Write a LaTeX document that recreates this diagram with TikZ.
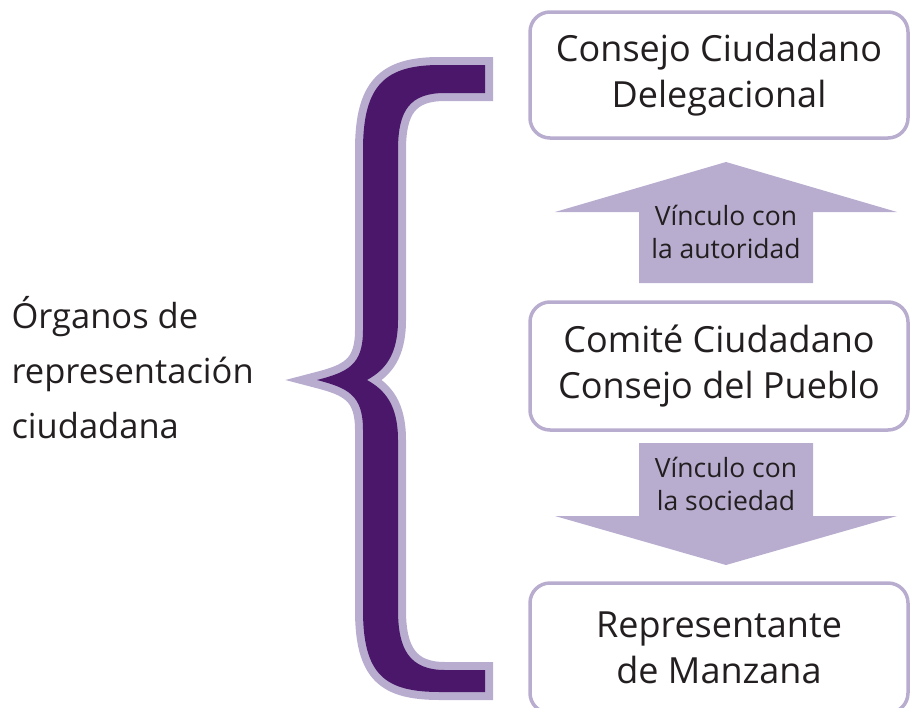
\documentclass[tikz,border=0pt]{standalone}
\usepackage{fontspec}
\setmainfont{Open Sans}
\usepackage{tikz}
\usetikzlibrary{positioning}

\definecolor{lilac}{HTML}{B8ADCF}
\definecolor{grape}{HTML}{4A176A}
\definecolor{ink}{HTML}{231F20}

\begin{document}
\begin{tikzpicture}[x=1pt, y=-1pt]

    % Styles
    \tikzset{
        organbox/.style={rectangle, rounded corners=20pt, draw=lilac, line width=3.5pt, fill=white, minimum width=378pt, align=center, text=ink, font=\fontsize{36}{46}\selectfont},
        arrowtext/.style={align=center, text=ink, font=\fontsize{26.5}{33}\selectfont},
        blockarrow/.style={fill=lilac},
        bracestyle/.style={fill=grape, preaction={draw=lilac, line width=16pt, line join=miter, miter limit=20}}
    }

    \useasboundingbox (0,0) rectangle (910,707);

    % Left label
    \node[anchor=west, align=left, text=ink, font=\fontsize{34.5}{55}\selectfont] (organos) at (8,368) {Órganos de\\representación\\ciudadana};

    % Brace
    \path[bracestyle] (485,65) -- (440,65) .. controls (385,65) and (363,85) .. (363,150) -- (363,330)
        .. controls (363,365) and (348,372) .. (317,380)
        .. controls (348,388) and (363,395) .. (363,430) -- (363,610)
        .. controls (363,675) and (385,692) .. (440,692) -- (485,692) -- (485,670) -- (445,670)
        .. controls (410,670) and (398,650) .. (398,610) -- (398,440)
        .. controls (398,405) and (385,390) .. (367,380)
        .. controls (385,370) and (398,355) .. (398,320) -- (398,150)
        .. controls (398,110) and (410,93) .. (445,93) -- (485,93) -- cycle;

    % Boxes
    \node[organbox, minimum height=126pt] (consejo) at (719,75) {Consejo Ciudadano\\Delegacional};
    \node[organbox, minimum height=128pt] (comite) at (719,366) {Comité Ciudadano\\Consejo del Pueblo};
    \node[organbox, minimum height=130pt] (manzana) at (719,648) {Representante\\de Manzana};

    % Block arrows
    \fill[blockarrow] (726,162) -- (897,212) -- (813,212) -- (813,283) -- (639,283) -- (639,212) -- (555,212) -- cycle;
    \node[arrowtext] (autoridad) at (726,232) {Vínculo con\\la autoridad};
    \fill[blockarrow] (639,443) -- (813,443) -- (813,516) -- (897,516) -- (726,565) -- (555,516) -- (639,516) -- cycle;
    \node[arrowtext] (sociedad) at (726,484) {Vínculo con\\la sociedad};

\end{tikzpicture}
\end{document}
